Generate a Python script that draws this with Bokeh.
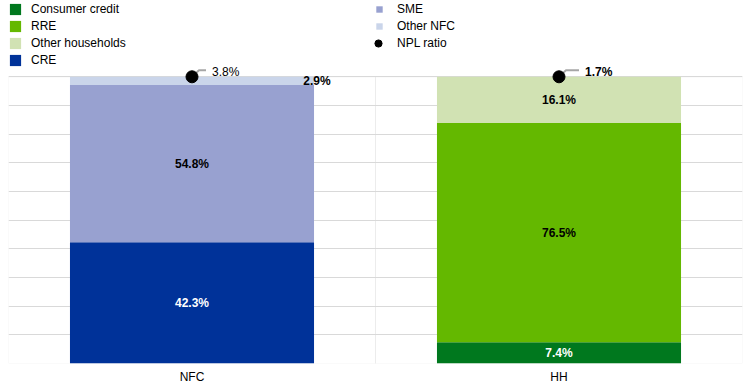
import numpy as np
from bokeh.plotting import figure
from bokeh.models import (ColumnDataSource, FactorRange, Range1d, FixedTicker,
                          BoxAnnotation, Legend, LegendItem)
from bokeh.embed import file_html
from bokeh.resources import INLINE
from bokeh.core.properties import value

# ---------------- data ----------------
categories = ["NFC", "HH"]
consumer_credit = [0.0, 7.4]
rre = [0.0, 76.5]
other_households = [0.0, 16.1]
cre = [42.3, 0.0]
sme = [54.8, 0.0]
other_nfc = [2.9, 0.0]
npl_ratio = [3.8, 1.7]

series_names = ["Consumer credit", "RRE", "Other households", "CRE", "SME", "Other NFC"]
series_values = [consumer_credit, rre, other_households, cre, sme, other_nfc]

# ---------------- styles ----------------
series_keys = ["cc", "rre", "oh", "cre", "sme", "onfc"]
colors = ["#00781e", "#64b800", "#d1e2b3", "#003299", "#98a1d0", "#cad5ea"]
label_colors = ["#ffffff", "#000000", "#000000", "#ffffff", "#000000", "#000000"]
npl_font_styles = ["normal", "bold"]
npl_label_dx = [20, 26]      # px from marker centre to label
FONT = "Liberation Sans"
GRID = "#d9d9d9"

LEFT, TOP = 8, 2
FRAME_W, FRAME_H = 734, 361
PX_PER_PCT = 2.867
BAR_W = 0.665
px_per_x = FRAME_W / len(categories)
y_top = FRAME_H / PX_PER_PCT

p = figure(x_range=FactorRange(*categories, range_padding=0),
           y_range=Range1d(0, y_top),
           frame_width=FRAME_W, frame_height=FRAME_H,
           output_backend="svg", toolbar_location=None,
           min_border_left=LEFT, min_border_right=3,
           min_border_top=TOP, min_border_bottom=0)
p.outline_line_color = None
p.background_fill_color = "white"
p.border_fill_color = "white"

# grid
p.xgrid.visible = False
p.ygrid.ticker = FixedTicker(ticks=list(range(0, 101, 10)))
p.ygrid.grid_line_color = GRID
p.ygrid.grid_line_width = 1
p.yaxis.visible = False

# category boxes (outline + separator)
for i in range(len(categories)):
    p.add_layout(BoxAnnotation(left=i, right=i + 1, bottom=0, top=100,
                               fill_alpha=0, line_color=GRID, line_width=1,
                               level="underlay"))

# x axis
ax = p.xaxis[0]
ax.axis_line_color = None
ax.major_tick_line_color = None
ax.minor_tick_line_color = None
ax.major_tick_out = 0
ax.major_tick_in = 0
ax.major_label_standoff = 6
ax.major_label_text_font = FONT
ax.major_label_text_font_size = "12px"
ax.major_label_text_color = "#000000"

# stacked bars
data = {"x": categories}
for k, v in zip(series_keys, series_values):
    data[k] = v
src = ColumnDataSource(data)
renderers = p.vbar_stack(series_keys, x="x", width=BAR_W, source=src,
                         fill_color=colors, line_color=None)

# segment labels
vals = np.array(series_values)  # series x categories
bottoms = np.vstack([np.zeros(len(categories)), np.cumsum(vals, axis=0)[:-1]])
lx, ly, lt, lc, loff = [], [], [], [], []
bar_half_px = BAR_W * px_per_x / 2
for s in range(len(series_values)):
    for c in range(len(categories)):
        v = vals[s, c]
        if v <= 0:
            continue
        lx.append(categories[c])
        ly.append(bottoms[s, c] + v / 2)
        lt.append(f"{v:.1f}%")
        lc.append(label_colors[s])
        loff.append(bar_half_px + 3 if v < 5 else 0)
lsrc = ColumnDataSource(dict(x=lx, y=ly, text=lt, color=lc, off=loff))
p.text(x="x", y="y", text="text", text_color="color", x_offset="off", source=lsrc,
       text_align="center", text_baseline="middle",
       text_font=value(FONT), text_font_size="12px", text_font_style="bold")

# NPL ratio markers
totals = vals.sum(axis=0)
centers = np.arange(len(categories)) + 0.5
xs, ys = [], []
for c in range(len(categories)):
    xc, yc = centers[c], totals[c]
    rise = 6.5 / PX_PER_PCT
    xs.append([xc, xc + 7 / px_per_x, xc + (npl_label_dx[c] - 6) / px_per_x])
    ys.append([yc, yc + rise, yc + rise])
p.multi_line(xs=xs, ys=ys, line_color="#a6a6a6", line_width=2)
nsrc = ColumnDataSource(dict(x=categories, y=totals,
                             text=[f"{v:.1f}%" for v in npl_ratio],
                             style=npl_font_styles, dx=npl_label_dx))
npl_r = p.scatter(x="x", y="y", source=nsrc, size=12, color="#000000")
p.text(x="x", y="y", text="text", source=nsrc, x_offset="dx", y_offset=-5,
       text_align="left", text_baseline="middle", text_color="#000000",
       text_font=value(FONT), text_font_size="12px", text_font_style="style")

# legends
def make_legend(items, loc, gw, standoff, lw, spacing=3):
    return Legend(items=items, location=loc, orientation="vertical",
                  glyph_width=gw, glyph_height=gw, label_standoff=standoff,
                  label_width=lw, label_height=14, spacing=spacing, padding=0, margin=0,
                  border_line_color=None, background_fill_alpha=0,
                  label_text_font=FONT, label_text_font_size="12px",
                  label_text_color="#000000", label_text_baseline="middle")

items1 = [LegendItem(label=series_names[i], renderers=[renderers[i]]) for i in range(4)]
items2 = [LegendItem(label=series_names[i], renderers=[renderers[i]]) for i in range(4, 6)]
items3 = [LegendItem(label="NPL ratio", renderers=[npl_r])]
p.add_layout(make_legend(items1, "top_left", 14, 9, 100, spacing=3))
p.add_layout(make_legend(items2, "top_right", 8, 14, 345, spacing=3))
# NPL ratio entry: larger glyph box so the dot is visible; third row of right column
leg3_h = 18
leg3_top = 33.5 - TOP
p.add_layout(make_legend(items3, (369 - LEFT, FRAME_H - leg3_top - leg3_h), 18, 10, 345))

open("out.html", "w").write(file_html(p, INLINE))
